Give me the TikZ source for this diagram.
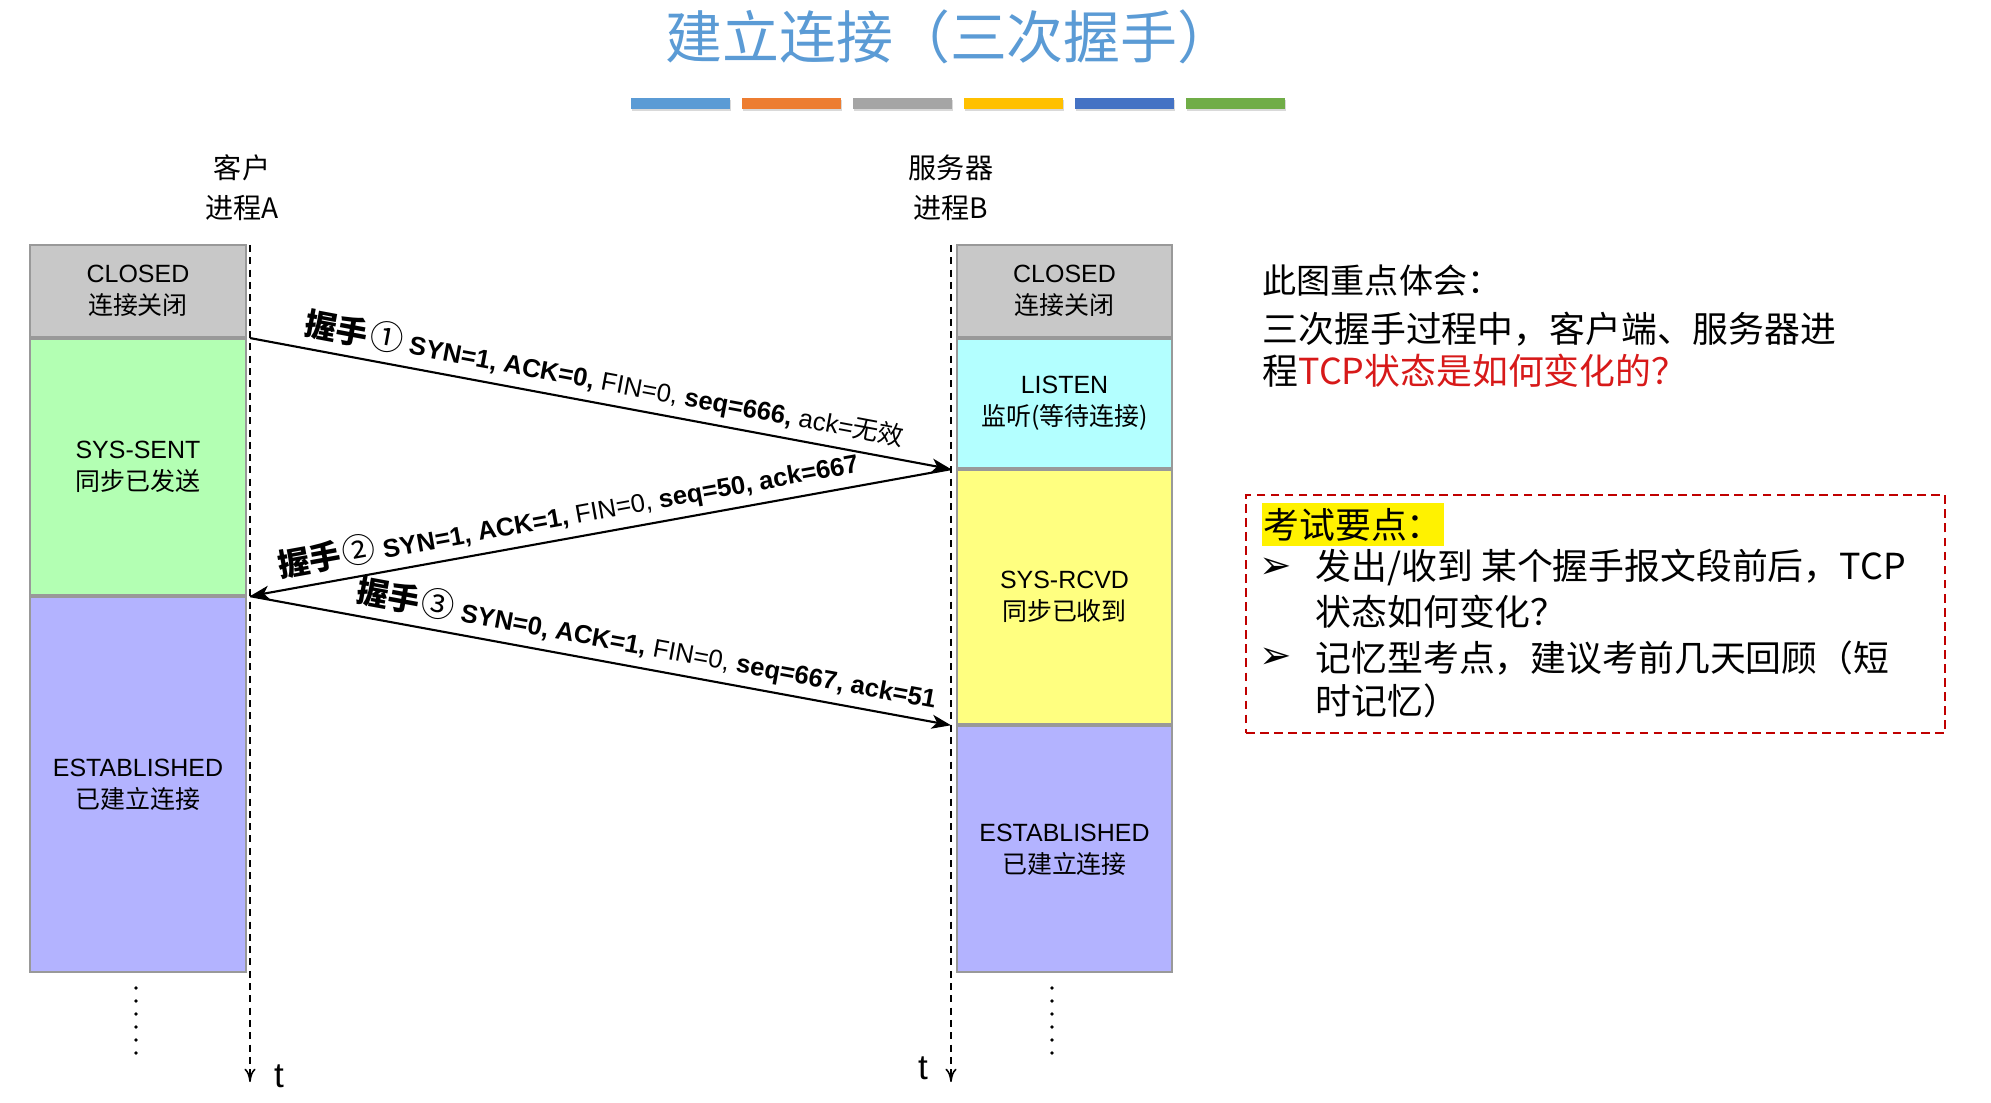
\documentclass[tikz,border=0pt]{standalone}
\usepackage{fontspec}
\setmainfont{Liberation Sans}
\newfontfamily\cjk{Noto Sans CJK SC}
\newfontfamily\dingfont{DejaVu Sans}
\usetikzlibrary{arrows.meta,positioning}
\definecolor{titleblue}{HTML}{5B9BD5}
\definecolor{barorange}{HTML}{ED7D31}
\definecolor{bargray}{HTML}{A5A5A5}
\definecolor{bargold}{HTML}{FFC000}
\definecolor{barnavy}{HTML}{4472C4}
\definecolor{bargreen}{HTML}{70AD47}
\definecolor{closedgray}{RGB}{200,200,200}
\definecolor{sentgreen}{RGB}{179,255,179}
\definecolor{listencyan}{RGB}{179,255,255}
\definecolor{rcvdyellow}{RGB}{255,255,128}
\definecolor{estblue}{RGB}{179,179,255}
\definecolor{notered}{RGB}{215,25,25}
\definecolor{framered}{RGB}{192,0,0}
\tikzset{state/.style={draw=gray!80, line width=0.6pt, minimum width=2.16cm, inner sep=0pt, align=center, font=\fontsize{7.1}{9.1}\selectfont},
	header/.style={align=center, inner sep=0pt, font=\cjk\fontsize{8}{11.4}\selectfont},
	lifeline/.style={dash pattern=on 2pt off 1.5pt, line width=0.45pt, -{To[length=3.8pt,width=3.2pt]}},
	msg/.style={line width=0.6pt, -{Stealth[length=5.5pt,width=4pt,inset=1.5pt]}},
	msglabel/.style={sloped, above, inner sep=2pt, font=\fontsize{7.3}{9}\selectfont},
	note/.style={anchor=west, inner sep=0pt, font=\cjk\fontsize{10.2}{12}\selectfont},
	bullet/.style={inner sep=0pt, font=\dingfont\fontsize{11}{12}\selectfont}
}
\newcommand{\hs}[1]{{\cjk\bfseries\fontsize{9}{9}\selectfont 握手}\kern0.6pt{\cjk\fontsize{9.5}{9}\selectfont #1}}

\begin{document}
\begin{tikzpicture}
	\useasboundingbox (0,0) rectangle (19.91,-11.03);
	% title and colour bars
	\node[font=\cjk\fontsize{16.2}{18}\selectfont, text=titleblue] (title) at (9.50,-0.37) {建立连接（三次握手）};
	\foreach \c [count=\i from 0] in {titleblue,barorange,bargray,bargold,barnavy,bargreen} {
		\fill[black!15] (6.32+1.11*\i,-1.00) rectangle ++(0.99,-0.11);
		\fill[\c] (6.31+1.11*\i,-0.98) rectangle ++(0.99,-0.11);
	}

	% hosts
	\node[header] (client) at (2.42,-1.88) {客户\\进程A};
	\node[header] (server) at (9.51,-1.88) {服务器\\进程B};

	% client states
	\node[state, fill=closedgray, minimum height=0.92cm] (aclosed) at (1.38,-2.91) {CLOSED\\{\cjk 连接关闭}};
	\node[state, fill=sentgreen, minimum height=2.56cm, below=0pt of aclosed] (asent) {SYS-SENT\\{\cjk 同步已发送}};
	\node[state, fill=estblue, minimum height=3.75cm, below=0pt of asent] (aest) {ESTABLISHED\\{\cjk 已建立连接}};

	% server states
	\node[state, fill=closedgray, minimum width=2.15cm, minimum height=0.92cm] (bclosed) at (10.645,-2.91) {CLOSED\\{\cjk 连接关闭}};
	\node[state, fill=listencyan, minimum width=2.15cm, minimum height=1.29cm, below=0pt of bclosed] (blisten) {LISTEN\\{\cjk 监听(等待连接)}};
	\node[state, fill=rcvdyellow, minimum width=2.15cm, minimum height=2.54cm, below=0pt of blisten] (brcvd) {SYS-RCVD\\{\cjk 同步已收到}};
	\node[state, fill=estblue, minimum width=2.15cm, minimum height=2.46cm, below=0pt of brcvd] (best) {ESTABLISHED\\{\cjk 已建立连接}};

	% time lines
	\coordinate (atop) at (2.50,-2.45);
	\coordinate (abot) at (2.50,-10.82);
	\coordinate (btop) at (9.51,-2.45);
	\coordinate (bbot) at (9.51,-10.82);
	\draw[lifeline] (atop) -- (abot);
	\draw[lifeline] (btop) -- (bbot);
	\node[font=\fontsize{10}{10}\selectfont, inner sep=0pt] (ta) at (2.79,-10.76) {t};
	\node[font=\fontsize{10}{10}\selectfont, inner sep=0pt] (tb) at (9.23,-10.68) {t};
	\foreach \k in {0,...,5} {
		\fill (1.36,-9.88-0.13*\k) circle (0.55pt);
		\fill (10.52,-9.88-0.13*\k) circle (0.55pt);
	}

	% handshake segments
	\coordinate (a1) at (atop |- asent.north);
	\coordinate (b1) at (btop |- brcvd.north);
	\coordinate (a2) at (atop |- aest.north);
	\coordinate (b2) at (btop |- best.north);
	\draw[msg] (a1) -- node[msglabel, pos=0.50] {\hs{①} \textbf{SYN=1, ACK=0,} FIN=0, \textbf{seq=666,} ack={\cjk 无效}} (b1);
	\draw[msg] (b1) -- node[msglabel, pos=0.54] {\hs{②} \textbf{SYN=1, ACK=1,} FIN=0, \textbf{seq=50, ack=667}} (a2);
	\draw[msg] (a2) -- node[msglabel, pos=0.56] {\hs{③} \textbf{SYN=0, ACK=1,} FIN=0, \textbf{seq=667, ack=51}} (b2);

	% notes
	\node[note, font=\cjk\fontsize{9.7}{12}\selectfont] (focus) at (12.62,-2.81) {此图重点体会：};
	\node[note] (question) at (12.62,-3.29) {三次握手过程中，客户端、服务器进};
	\node[note] (question2) at (12.62,-3.71) {程\textcolor{notered}{TCP状态是如何变化的？}};

	\node[draw=framered, dash pattern=on 2.5pt off 1.5pt, line width=0.6pt, minimum width=6.99cm, minimum height=2.38cm] (exam) at (15.955,-6.14) {};
	\node[note, fill=yellow, inner xsep=0.5pt, minimum height=0.43cm] (keypoint) at (12.61,-5.245) {考试要点：};
	\node[bullet] (arrow1) at (12.76,-5.68) {➢};
	\node[bullet] (arrow2) at (12.76,-6.58) {➢};
	\node[note] (point1) at (13.15,-5.68) {发出/收到 某个握手报文段前后，TCP};
	\node[note] (point1b) at (13.15,-6.12) {状态如何变化？};
	\node[note] (point2) at (13.15,-6.58) {记忆型考点，建议考前几天回顾（短};
	\node[note] (point2b) at (13.15,-7.01) {时记忆）};
\end{tikzpicture}
\end{document}
